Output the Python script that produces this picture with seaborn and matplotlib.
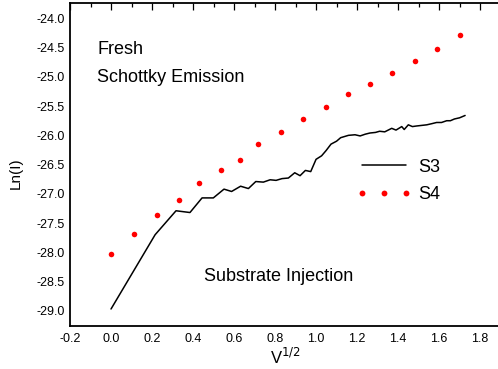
import matplotlib
matplotlib.use("Agg")
import matplotlib.pyplot as plt
from matplotlib.lines import Line2D
from matplotlib.ticker import MultipleLocator
import seaborn as sns
import pandas as pd

s3_x = [0.0, 0.215, 0.317, 0.385, 0.444, 0.499, 0.551, 0.588, 0.632, 0.670, 0.706, 0.743,
        0.776, 0.805, 0.834, 0.865, 0.896, 0.922, 0.948, 0.974, 1.000, 1.027, 1.049, 1.073,
        1.100, 1.120, 1.158, 1.190, 1.215, 1.240, 1.263, 1.290, 1.310, 1.335, 1.369, 1.390,
        1.418, 1.430, 1.450, 1.470, 1.490, 1.515, 1.540, 1.565, 1.588, 1.612, 1.637, 1.655,
        1.675, 1.700, 1.727]
s3_y = [-28.97, -27.70, -27.29, -27.32, -27.07, -27.07, -26.92, -26.96, -26.87, -26.91, -26.79, -26.80,
        -26.76, -26.77, -26.74, -26.73, -26.64, -26.69, -26.60, -26.62, -26.41, -26.35, -26.26, -26.15,
        -26.10, -26.04, -26.00, -25.99, -26.01, -25.98, -25.96, -25.95, -25.93, -25.94, -25.88, -25.91,
        -25.85, -25.90, -25.82, -25.85, -25.84, -25.83, -25.82, -25.80, -25.78, -25.78, -25.75, -25.75,
        -25.72, -25.70, -25.66]

s4_x = [0.0, 0.114, 0.223, 0.331, 0.429, 0.537, 0.629, 0.719, 0.828, 0.935, 1.047, 1.154,
        1.263, 1.372, 1.481, 1.592, 1.701]
s4_y = [-28.03, -27.69, -27.36, -27.10, -26.82, -26.60, -26.43, -26.15, -25.94, -25.72, -25.52, -25.30,
        -25.13, -24.94, -24.73, -24.52, -24.29]

y_ticks = [-29.0, -28.5, -28.0, -27.5, -27.0, -26.5, -26.0, -25.5, -25.0, -24.5, -24.0]
x_ticks = [-0.2, 0.0, 0.2, 0.4, 0.6, 0.8, 1.0, 1.2, 1.4, 1.6, 1.8]

sns.set_style("white")
plt.rcParams["font.family"] = ["Liberation Sans", "DejaVu Sans"]
plt.rcParams["text.color"] = "black"
plt.rcParams["axes.labelcolor"] = "black"
plt.rcParams["xtick.color"] = "black"
plt.rcParams["ytick.color"] = "black"

fig = plt.figure(figsize=(4.98, 3.69), dpi=100)
ax = fig.add_axes([0.1406, 0.1173, 0.8794, 0.874])

df3 = pd.DataFrame({"x": s3_x, "y": s3_y})
df4 = pd.DataFrame({"x": s4_x, "y": s4_y})
sns.lineplot(data=df3, x="x", y="y", ax=ax, color="black", lw=1.1, sort=False)
sns.scatterplot(data=df4, x="x", y="y", ax=ax, color="#ff0000", s=16, linewidth=0, marker="o")

ax.set_xlim(-0.2, 1.936)
ax.set_ylim(-29.256, -23.74)
ax.set_xticks(x_ticks)
ax.set_xticklabels([f"{v:.1f}" for v in x_ticks])
ax.set_yticks(y_ticks)
ax.set_yticklabels([f"{v:.1f}" for v in y_ticks])
ax.xaxis.set_minor_locator(MultipleLocator(0.1))
ax.yaxis.set_minor_locator(MultipleLocator(0.25))
ax.tick_params(which="both", direction="in", top=True, right=True, labelsize=9, width=0.9, color="black")
ax.tick_params(which="major", length=5)
ax.tick_params(axis="x", which="major", pad=5)
ax.tick_params(axis="y", which="major", pad=4)
ax.tick_params(which="minor", length=3)
for sp in ax.spines.values():
    sp.set_color("black")
    sp.set_linewidth(1.3)

ax.set_xlabel("V$^{1/2}$", fontsize=12)
ax.set_ylabel("Ln(I)", fontsize=11)
ax.xaxis.set_label_coords(0.491, -0.067)
ax.yaxis.set_label_coords(-0.107, 0.474)

ax.text(0.062, 0.858, "Fresh", transform=ax.transAxes, fontsize=13, va="center", ha="left")
ax.text(0.062, 0.771, "Schottky Emission", transform=ax.transAxes, fontsize=13, va="center", ha="left")
ax.text(0.306, 0.152, "Substrate Injection", transform=ax.transAxes, fontsize=13, va="center", ha="left")

handles = [Line2D([], [], color="black", lw=1.1),
           Line2D([], [], color="#ff0000", marker="o", ls="none", markersize=4.2, markeredgewidth=0)]
leg = ax.legend(handles, ["S3", "S4"], loc="upper left", bbox_to_anchor=(0.655, 0.518),
                fontsize=13, frameon=False, numpoints=3, handlelength=3.0, handletextpad=0.4,
                labelspacing=0.6, borderaxespad=0, borderpad=0)

fig.savefig("out.png", dpi=100)
